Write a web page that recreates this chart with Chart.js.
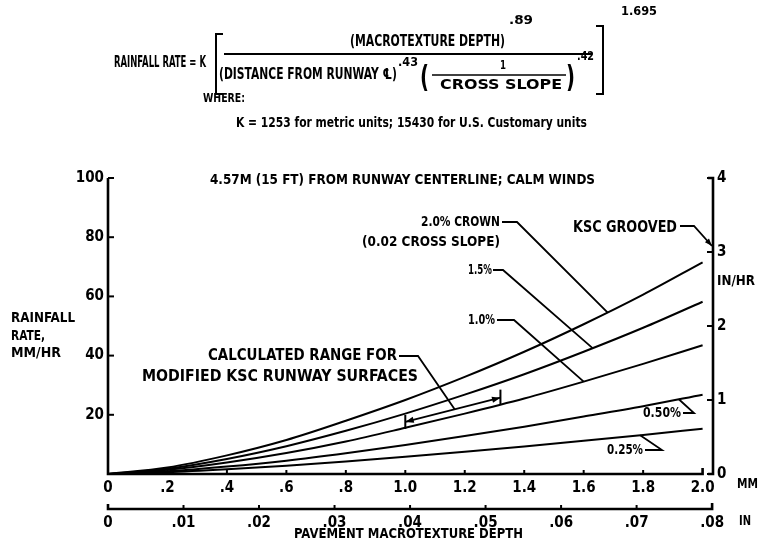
<!DOCTYPE html>
<html>
<head>
<meta charset="utf-8">
<title>Rainfall rate vs pavement macrotexture depth</title>
<script src="https://cdn.jsdelivr.net/npm/chart.js@4.4.1/dist/chart.umd.min.js"></script>
<style>
  body { margin: 0; background: #fff; }
  canvas { display: block; }
</style>
</head>
<body>
<canvas id="rainChart" width="763" height="550"></canvas>
<script>
// rainfall rate (mm/hr), by pavement macrotexture depth (mm)
const depthMM = [0, 0.2, 0.4, 0.6, 0.8, 1.0, 1.2, 1.4, 1.6, 1.8, 2.0];
const slope20 = [0, 2.2, 6.3, 11.5, 18.0, 25.0, 32.8, 41.3, 50.6, 60.6, 71.5];
const slope15 = [0, 1.8, 5.1, 9.4, 14.6, 20.4, 26.8, 33.7, 41.3, 49.4, 58.2];
const slope10 = [0, 1.4, 3.9, 7.1, 11.0, 15.6, 20.4, 25.5, 31.2, 37.2, 43.5];
const slope05 = [0, 0.9, 2.5, 4.5, 7.0, 9.8, 12.8, 16.0, 19.4, 22.9, 26.8];
const slope025 = [0, 0.6, 1.6, 2.8, 4.2, 5.8, 7.5, 9.3, 11.2, 13.2, 15.3];

// axis ticks
const mmTicks = [0, 0.2, 0.4, 0.6, 0.8, 1.0, 1.2, 1.4, 1.6, 1.8, 2.0];
const inTicks = [0, 0.01, 0.02, 0.03, 0.04, 0.05, 0.06, 0.07, 0.08];
const rateTicks = [0, 20, 40, 60, 80, 100];
const inHrTicks = [0, 1, 2, 3, 4];

// calculated range for modified KSC runway surfaces (depth mm, rate mm/hr)
const rangeFrom = [1.0, 17.6];
const rangeTo = [1.32, 25.8];

const FONT = '"Liberation Sans Narrow", "DejaVu Sans Condensed", sans-serif';
const MM_MAX = 2.035;

function toPoints(values) {
  return depthMM.map((d, i) => ({ x: d, y: values[i] }));
}

// rate on a curve at a given depth, used to hook the leader lines onto it
function onCurve(values, mm) {
  for (let i = 1; i < depthMM.length; i++) {
    if (mm <= depthMM[i]) {
      const t = (mm - depthMM[i - 1]) / (depthMM[i] - depthMM[i - 1]);
      return values[i - 1] + t * (values[i] - values[i - 1]);
    }
  }
  return values[values.length - 1];
}

// text squeezed to the width it has in the original lettering
function text(ctx, s, x, y, w, size) {
  ctx.save();
  ctx.font = "bold " + size + "px " + FONT;
  ctx.textBaseline = "middle";
  ctx.fillStyle = "#000";
  const m = ctx.measureText(s).width;
  ctx.translate(x, y);
  if (w) ctx.scale(w / m, 1);
  ctx.fillText(s, 0, 0);
  ctx.restore();
}

function path(ctx, pts, lw) {
  ctx.save();
  ctx.beginPath();
  ctx.lineWidth = lw || 1.6;
  ctx.strokeStyle = "#000";
  pts.forEach((p, i) => (i ? ctx.lineTo(p[0], p[1]) : ctx.moveTo(p[0], p[1])));
  ctx.stroke();
  ctx.restore();
}

function arrowHead(ctx, from, to, size) {
  const a = Math.atan2(to[1] - from[1], to[0] - from[0]);
  ctx.save();
  ctx.fillStyle = "#000";
  ctx.beginPath();
  ctx.moveTo(to[0], to[1]);
  ctx.lineTo(to[0] - size * Math.cos(a - 0.35), to[1] - size * Math.sin(a - 0.35));
  ctx.lineTo(to[0] - size * Math.cos(a + 0.35), to[1] - size * Math.sin(a + 0.35));
  ctx.closePath();
  ctx.fill();
  ctx.restore();
}

const annotations = {
  id: "annotations",
  afterDraw(chart) {
    const ctx = chart.ctx;
    const sx = chart.scales.x, sy = chart.scales.y;
    const si = chart.scales.xIn, sr = chart.scales.y2;
    const X = v => sx.getPixelForValue(v);
    const Y = v => sy.getPixelForValue(v);
    const R = v => sr.getPixelForValue(v);
    const I = v => si.getPixelForValue(v);
    const P = (mm, rate) => [X(mm), Y(rate)];
    const x0 = X(0), y0 = Y(0);

    // axes, ticks pointing inward like the original
    path(ctx, [[x0, Y(100)], [x0, y0], [X(2.0), y0], [X(2.0), y0 - 6]], 2.6);
    mmTicks.forEach(v => v > 0 && v < 2 && path(ctx, [[X(v), y0], [X(v), y0 - 4]], 2));
    rateTicks.forEach(v => v > 0 && path(ctx, [[x0, Y(v)], [x0 + 6, Y(v)]], 2));

    const xr = chart.chartArea.right;
    path(ctx, [[xr - 5, R(4)], [xr, R(4)], [xr, R(0)], [xr - 5, R(0)]], 2.6);
    inHrTicks.forEach(v => path(ctx, [[xr, R(v)], [xr - 6, R(v)]], 2));

    const yIn = si.top + 7;
    path(ctx, [[I(0), yIn - 5], [I(0), yIn], [I(0.08), yIn], [I(0.08), yIn - 6]], 2.6);
    inTicks.forEach(v => v > 0 && v < 0.08 && path(ctx, [[I(v), yIn], [I(v), yIn - 4]], 2));

    // axis titles
    text(ctx, "MM", 737, y0 + 10, 21, 14);
    text(ctx, "IN", 739, yIn + 12, 12, 14);
    text(ctx, "IN/HR", 717, R(2.6), 38, 14);
    text(ctx, "RAINFALL", 11, 318, 64, 14);
    text(ctx, "RATE,", 11, 336, 34, 14);
    text(ctx, "MM/HR", 11, 353, 50, 14);
    text(ctx, "PAVEMENT MACROTEXTURE DEPTH", 294, 534, 229, 14);

    // formula
    text(ctx, "RAINFALL RATE = K", 114, 63, 92, 15);
    path(ctx, [[223, 34], [216, 34], [216, 94], [223, 94]], 2);
    text(ctx, "(MACROTEXTURE DEPTH)", 350, 42, 155, 15);
    text(ctx, ".89", 509, 21, 24, 13);
    path(ctx, [[224, 54], [592, 54]], 1.8);
    text(ctx, "(DISTANCE FROM RUNWAY \u2104)", 219, 75, 178, 15);
    text(ctx, ".43", 398, 63, 20, 13);
    text(ctx, "(", 420, 79, 9, 30);
    text(ctx, "1", 500, 66, 6, 13);
    path(ctx, [[432, 75], [566, 75]], 1.6);
    text(ctx, "CROSS SLOPE", 440, 85, 122, 14);
    text(ctx, ")", 566, 79, 9, 30);
    text(ctx, ".42", 577, 57, 17, 13);
    path(ctx, [[596, 26], [603, 26], [603, 94], [596, 94]], 2);
    text(ctx, "1.695", 621, 12, 36, 13);
    text(ctx, "WHERE:", 203, 99, 42, 13);
    text(ctx, "K = 1253 for metric units; 15430 for U.S. Customary units", 236, 123, 351, 14);

    text(ctx, "4.57M (15 FT) FROM RUNWAY CENTERLINE; CALM WINDS", 210, 180, 385, 14);

    // curve labels and leaders
    text(ctx, "2.0% CROWN", 421, 222, 79, 14);
    text(ctx, "(0.02 CROSS SLOPE)", 362, 242, 138, 14);
    path(ctx, [[502, 222], [517, 222], P(1.68, onCurve(slope20, 1.68))], 1.8);

    text(ctx, "1.5%", 468, 270, 24, 14);
    path(ctx, [[493, 270], [503, 270], P(1.63, onCurve(slope15, 1.63))], 1.8);

    text(ctx, "1.0%", 468, 320, 27, 14);
    path(ctx, [[497, 320], [514, 320], P(1.6, onCurve(slope10, 1.6))], 1.8);

    text(ctx, "KSC GROOVED", 573, 228, 104, 16);
    const kscEnd = [xr - 1, R(3) - 6];
    path(ctx, [[680, 226], [694, 226], kscEnd], 1.8);
    arrowHead(ctx, [694, 226], kscEnd, 8);

    text(ctx, "0.50%", 643, 413, 38, 14);
    path(ctx, [[683, 413], [694, 413], P(1.92, onCurve(slope05, 1.92))], 1.8);

    text(ctx, "0.25%", 607, 450, 36, 14);
    path(ctx, [[645, 450], [662, 450], P(1.79, onCurve(slope025, 1.79))], 1.8);

    // calculated range arrow
    const a = P(rangeFrom[0], rangeFrom[1]);
    const b = P(rangeTo[0], rangeTo[1]);
    path(ctx, [a, b], 1.8);
    arrowHead(ctx, b, a, 9);
    arrowHead(ctx, a, b, 9);
    path(ctx, [[a[0], a[1] - 7], [a[0], a[1] + 7]], 2);
    path(ctx, [[b[0], b[1] - 8], [b[0], b[1] + 7]], 2);

    text(ctx, "CALCULATED RANGE FOR", 208, 356, 189, 16);
    text(ctx, "MODIFIED KSC RUNWAY SURFACES", 142, 377, 276, 16);
    const t = (1.166 - rangeFrom[0]) / (rangeTo[0] - rangeFrom[0]);
    const mid = P(1.166, rangeFrom[1] + t * (rangeTo[1] - rangeFrom[1]));
    path(ctx, [[399, 356], [418, 356], mid], 1.8);
  }
};

function curve(values) {
  return {
    data: toPoints(values),
    borderColor: "#000",
    borderWidth: 2,
    pointRadius: 0,
    cubicInterpolationMode: "monotone",
    fill: false
  };
}

const tickFont = { family: FONT, size: 15, weight: "bold" };

new Chart(document.getElementById("rainChart"), {
  type: "line",
  data: {
    datasets: [curve(slope20), curve(slope15), curve(slope10), curve(slope05), curve(slope025)]
  },
  options: {
    responsive: false,
    animation: false,
    layout: { padding: { top: 178, left: 0, right: 0, bottom: 0 } },
    plugins: { legend: { display: false }, tooltip: { enabled: false } },
    scales: {
      x: {
        type: "linear",
        position: "bottom",
        weight: 0,
        min: 0,
        max: MM_MAX,
        afterBuildTicks: s => { s.ticks = mmTicks.map(v => ({ value: v })); },
        afterFit: s => { s.height = 28; },
        grid: { display: false, drawTicks: false },
        border: { display: false },
        ticks: {
          color: "#000",
          font: tickFont,
          padding: 5,
          maxRotation: 0,
          autoSkip: false,
          callback: v => (v === 0 ? "0" : v < 1 ? "." + Math.round(v * 10) : v.toFixed(1))
        }
      },
      xIn: {
        type: "linear",
        position: "bottom",
        weight: 1,
        min: 0,
        max: MM_MAX / 25.4,
        afterBuildTicks: s => { s.ticks = inTicks.map(v => ({ value: v })); },
        afterFit: s => { s.height = 48; },
        grid: { display: false, drawTicks: false },
        border: { display: false },
        ticks: {
          color: "#000",
          font: tickFont,
          padding: 12,
          maxRotation: 0,
          autoSkip: false,
          callback: v => (v === 0 ? "0" : "." + String(Math.round(v * 100)).padStart(2, "0"))
        }
      },
      y: {
        type: "linear",
        position: "left",
        min: 0,
        max: 100,
        afterBuildTicks: s => { s.ticks = rateTicks.map(v => ({ value: v })); },
        afterFit: s => { s.width = 108; },
        grid: { display: false, drawTicks: false },
        border: { display: false },
        ticks: {
          color: "#000",
          font: tickFont,
          padding: 4,
          callback: v => (v === 0 ? "" : String(v))
        }
      },
      y2: {
        type: "linear",
        position: "right",
        min: 0,
        max: 4,
        afterBuildTicks: s => { s.ticks = inHrTicks.map(v => ({ value: v })); },
        afterFit: s => { s.width = 50; },
        grid: { display: false, drawTicks: false },
        border: { display: false },
        ticks: { color: "#000", font: tickFont, padding: 4 }
      }
    }
  },
  plugins: [annotations]
});
</script>
</body>
</html>
